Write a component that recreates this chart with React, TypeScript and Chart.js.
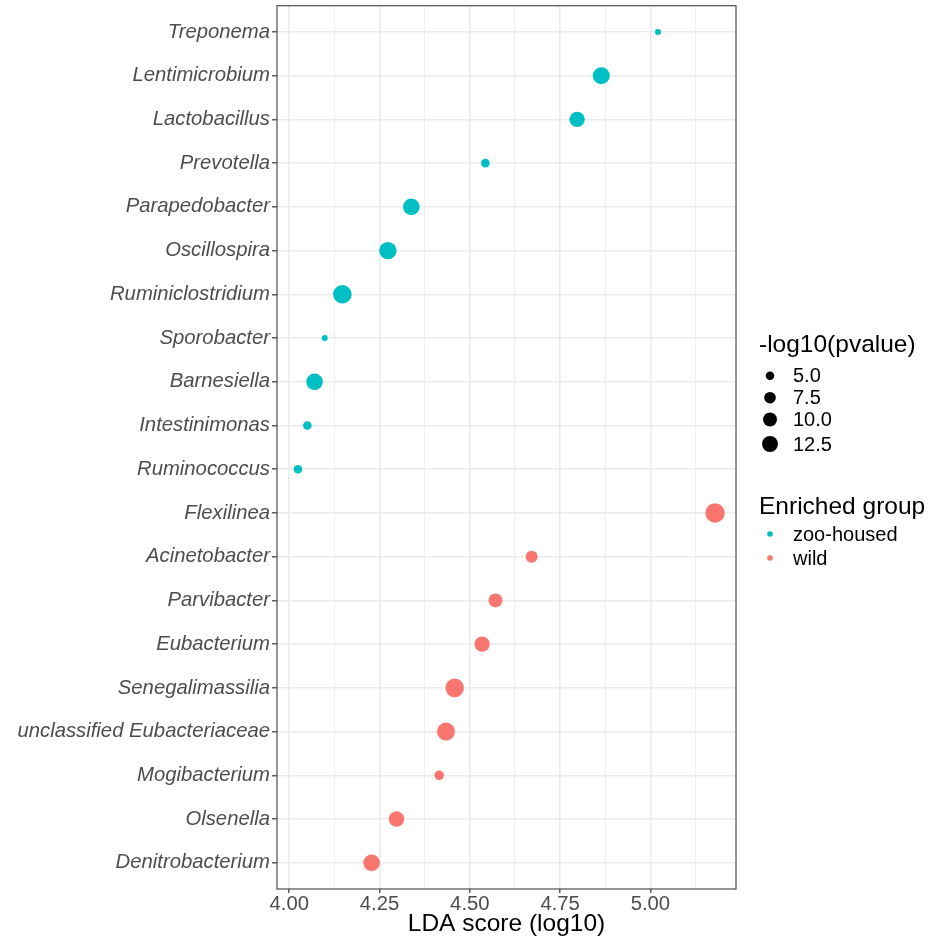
import React, { useEffect, useRef } from "react";
import { Chart, registerables } from "chart.js";

Chart.register(...registerables);

const categories = [
  "Treponema", "Lentimicrobium", "Lactobacillus", "Prevotella", "Parapedobacter",
  "Oscillospira", "Ruminiclostridium", "Sporobacter", "Barnesiella", "Intestinimonas",
  "Ruminococcus", "Flexilinea", "Acinetobacter", "Parvibacter", "Eubacterium",
  "Senegalimassilia", "unclassified Eubacteriaceae", "Mogibacterium", "Olsenella", "Denitrobacterium",
];
const groups = [
  "zoo-housed", "zoo-housed", "zoo-housed", "zoo-housed", "zoo-housed",
  "zoo-housed", "zoo-housed", "zoo-housed", "zoo-housed", "zoo-housed",
  "zoo-housed", "wild", "wild", "wild", "wild",
  "wild", "wild", "wild", "wild", "wild",
];
const ldaScores = [
  5.021, 4.864, 4.797, 4.543, 4.338,
  4.273, 4.147, 4.098, 4.070, 4.050,
  4.024, 5.179, 4.671, 4.571, 4.534,
  4.458, 4.434, 4.415, 4.297, 4.228,
];
const negLogP = [
  3.4, 14.0, 11.8, 5.0, 13.4,
  14.5, 16.3, 3.4, 13.4, 5.0,
  5.0, 17.6, 7.9, 10.1, 11.8,
  16.3, 15.4, 5.6, 11.8, 13.4,
];
const sizeBreaks = [5.0, 7.5, 10.0, 12.5];
const groupNames = ["zoo-housed", "wild"];
const groupColors = ["#00BFC4", "#F8766D"];
const xMajorTicks = [4.0, 4.25, 4.5, 4.75, 5.0];
const xMinorTicks = [4.125, 4.375, 4.625, 4.875, 5.125];

const FONT = 'Arial, "Liberation Sans", Helvetica, sans-serif';
const SHIFT = 4;
const radiusOf = (v: number) => Math.sqrt(Math.max(6 * v - 11.5, 1));

export default function App() {
  const ref = useRef<HTMLCanvasElement>(null);

  useEffect(() => {
    document.body.style.margin = "0";
    const canvas = ref.current!;
    const datasets = groupNames.map((g, gi) => {
      const idx = categories.map((_, i) => i).filter((i) => groups[i] === g);
      return {
        label: g,
        data: idx.map((i) => ({ x: ldaScores[i], y: i })),
        pointRadius: idx.map((i) => radiusOf(negLogP[i])),
        pointHoverRadius: idx.map((i) => radiusOf(negLogP[i])),
        pointBackgroundColor: groupColors[gi],
        pointBorderColor: groupColors[gi],
        pointBorderWidth: 0,
        showLine: false,
      };
    });

    const overlay = {
      id: "overlay",
      afterDatasetsDraw(chart: any) {
        const { ctx, chartArea: a } = chart;
        ctx.save();
        ctx.strokeStyle = "#4d4d4d";
        ctx.lineWidth = 1.2;
        ctx.strokeRect(a.left, a.top, a.right - a.left, a.bottom - a.top);
        ctx.restore();
      },
      afterDraw(chart: any) {
        const { ctx, chartArea: a } = chart;
        ctx.save();
        ctx.translate(0, SHIFT);
        ctx.fillStyle = "#000";
        ctx.textBaseline = "alphabetic";
        ctx.textAlign = "center";
        ctx.font = `24.5px ${FONT}`;
        ctx.fillText("LDA score (log10)", (a.left + a.right) / 2, 931);

        ctx.textAlign = "left";
        ctx.fillText("-log10(pvalue)", 759, 352);
        const ys = [375.7, 397.7, 419.5, 444];
        ctx.font = `20px ${FONT}`;
        ctx.textBaseline = "middle";
        sizeBreaks.forEach((b, i) => {
          ctx.beginPath();
          ctx.fillStyle = "#000";
          ctx.arc(770, ys[i], radiusOf(b), 0, Math.PI * 2);
          ctx.fill();
          ctx.fillText(b.toFixed(1), 793, ys[i] + 1);
        });

        ctx.textBaseline = "alphabetic";
        ctx.font = `24.5px ${FONT}`;
        ctx.fillText("Enriched group", 759, 514);
        ctx.font = `20px ${FONT}`;
        ctx.textBaseline = "middle";
        const gy = [534, 558];
        groupNames.forEach((g, i) => {
          ctx.beginPath();
          ctx.fillStyle = groupColors[i];
          ctx.arc(770, gy[i], 2.8, 0, Math.PI * 2);
          ctx.fill();
          ctx.fillStyle = "#000";
          ctx.fillText(g, 793, gy[i] + 1);
        });
        ctx.restore();
      },
    };

    const xTicks = [...xMajorTicks, ...xMinorTicks].sort((p, q) => p - q);

    const chart = new Chart(canvas, {
      type: "scatter",
      data: { datasets: datasets as any },
      plugins: [overlay],
      options: {
        animation: false,
        responsive: false,
        devicePixelRatio: 1,
        layout: { padding: { top: 2, right: 205, bottom: 0, left: 0 } },
        plugins: { legend: { display: false }, tooltip: { enabled: false } },
        scales: {
          x: {
            type: "linear",
            min: 3.966,
            max: 5.237,
            afterBuildTicks: (s: any) => {
              s.ticks = xTicks.map((v) => ({ value: v }));
            },
            afterFit: (s: any) => {
              s.height = 55;
              s.paddingLeft = 0;
              s.paddingRight = 0;
            },
            border: { display: false },
            grid: {
              color: "#EBEBEB",
              lineWidth: (c: any) => (xMajorTicks.includes(c.tick?.value) ? 1.6 : 0.8),
              tickColor: (c: any) => (xMajorTicks.includes(c.tick?.value) ? "#333333" : "rgba(0,0,0,0)"),
              tickLength: 4,
              tickWidth: 1.2,
            },
            ticks: {
              autoSkip: false,
              maxRotation: 0,
              padding: -1,
              color: "#4D4D4D",
              font: { family: FONT, size: 20.3 },
              callback: (v: any) => (xMajorTicks.includes(Number(v)) ? Number(v).toFixed(2) : ""),
            },
          },
          y: {
            type: "linear",
            reverse: true,
            min: -0.6,
            max: 19.6,
            afterBuildTicks: (s: any) => {
              s.ticks = categories.map((_, i) => ({ value: i }));
            },
            afterFit: (s: any) => {
              s.width = 277;
              s.paddingTop = 0;
              s.paddingBottom = 0;
            },
            border: { display: false },
            grid: {
              color: "#EBEBEB",
              lineWidth: 1.6,
              tickColor: "#333333",
              tickLength: 5,
              tickWidth: 1.2,
            },
            ticks: {
              autoSkip: false,
              padding: 2,
              color: "#4D4D4D",
              font: { family: FONT, size: 20.3, style: "italic" },
              callback: (v: any) => categories[Number(v)] ?? "",
            },
          },
        },
      },
    });
    return () => chart.destroy();
  }, []);

  return (
    <div style={{ width: 941, height: 944, overflow: "hidden" }}>
      <canvas
        ref={ref}
        width={941}
        height={944 + SHIFT}
        style={{ display: "block", marginTop: -SHIFT }}
      />
    </div>
  );
}
